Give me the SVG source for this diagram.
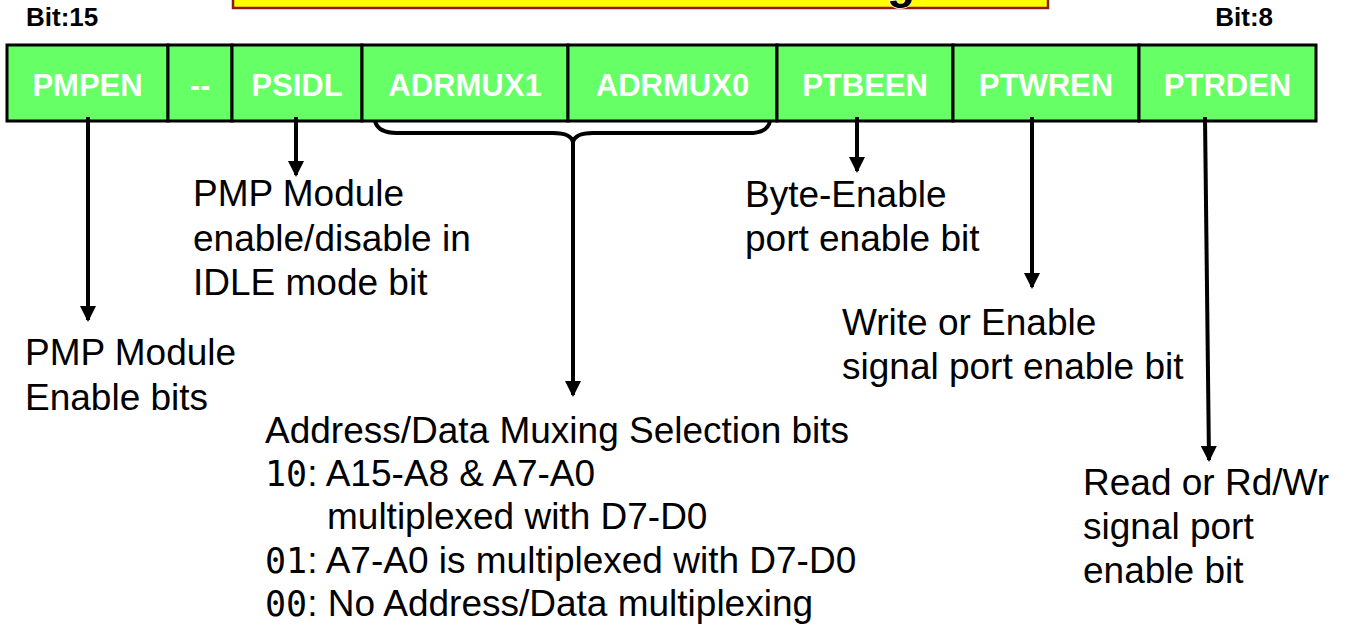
<svg xmlns="http://www.w3.org/2000/svg" width="1346" height="628" viewBox="0 0 1346 628">
  <style>
    .cell { fill: #66FF66; stroke: #000; stroke-width: 3; }
    .field { font-family: "Liberation Sans", Arial, sans-serif; font-weight: bold; font-size: 31px; fill: #fff; text-anchor: middle; }
    .bitno { font-family: "Liberation Sans", Arial, sans-serif; font-weight: bold; font-size: 26px; fill: #000; }
    .desc { font-family: "Liberation Sans", Arial, sans-serif; font-size: 37px; fill: #000; }
    .code { font-family: "DejaVu Sans Mono", "Liberation Mono", monospace; font-size: 35px; }
    .wire { fill: none; stroke: #000; stroke-width: 4; }
  </style>
  <defs>
    <marker id="head" viewBox="0 0 16 16" refX="14" refY="8" markerWidth="16" markerHeight="16" markerUnits="userSpaceOnUse" orient="auto">
      <path d="M0,0 L16,8 L0,16 Z" fill="#000"/>
    </marker>
  </defs>

  <rect width="1346" height="628" fill="#fff"/>

  <!-- title banner, mostly above the page edge -->
  <g id="title">
    <rect x="233" y="-40" width="815" height="48" fill="#FFFF00" stroke="#8B1A1A" stroke-width="2.5"/>
    <text x="887" y="-2" font-family="Liberation Sans, Arial, sans-serif" font-weight="bold" font-size="46" fill="#000" stroke="#fff" stroke-width="1.5" paint-order="stroke">g</text>
  </g>

  <!-- bit numbers -->
  <g id="bit-labels">
    <text class="bitno" x="26" y="26">Bit:15</text>
    <text class="bitno" x="1273" y="26" text-anchor="end">Bit:8</text>
  </g>

  <!-- register fields -->
  <g id="register">
    <g id="f-pmpen"><rect class="cell" x="7" y="45" width="161" height="76"/><text class="field" x="87.5" y="96">PMPEN</text></g>
    <g id="f-unused"><rect class="cell" x="168" y="45" width="64" height="76"/><text class="field" x="200" y="96">--</text></g>
    <g id="f-psidl"><rect class="cell" x="232" y="45" width="130" height="76"/><text class="field" x="297" y="96">PSIDL</text></g>
    <g id="f-adrmux1"><rect class="cell" x="362" y="45" width="206" height="76"/><text class="field" x="465" y="96">ADRMUX1</text></g>
    <g id="f-adrmux0"><rect class="cell" x="568" y="45" width="209" height="76"/><text class="field" x="672.5" y="96">ADRMUX0</text></g>
    <g id="f-ptbeen"><rect class="cell" x="777" y="45" width="176" height="76"/><text class="field" x="865" y="96">PTBEEN</text></g>
    <g id="f-ptwren"><rect class="cell" x="953" y="45" width="186" height="76"/><text class="field" x="1046" y="96">PTWREN</text></g>
    <g id="f-ptrden"><rect class="cell" x="1139" y="45" width="177" height="76"/><text class="field" x="1227.5" y="96">PTRDEN</text></g>
  </g>

  <!-- pointers from fields to their descriptions -->
  <g id="connectors">
    <line class="wire" x1="88" y1="117" x2="88" y2="320" marker-end="url(#head)"/>
    <line class="wire" x1="296" y1="117" x2="296" y2="175" marker-end="url(#head)"/>
    <path class="wire" stroke-width="3.5" d="M375,121 Q378,133 397,133 L553,133 Q571,133 573,142 Q575,133 593,133 L749,133 Q768,133 770,121"/>
    <line class="wire" x1="573" y1="140" x2="573" y2="395" marker-end="url(#head)"/>
    <line class="wire" x1="857" y1="117" x2="857" y2="171" marker-end="url(#head)"/>
    <line class="wire" x1="1032" y1="117" x2="1032" y2="287" marker-end="url(#head)"/>
    <line class="wire" x1="1205" y1="117" x2="1209" y2="460" marker-end="url(#head)"/>
  </g>

  <!-- descriptions -->
  <g id="d-pmpen">
    <text class="desc" x="25" y="365">PMP Module</text>
    <text class="desc" x="25" y="410">Enable bits</text>
  </g>
  <g id="d-psidl">
    <text class="desc" x="193" y="206">PMP Module</text>
    <text class="desc" x="193" y="251">enable/disable in</text>
    <text class="desc" x="193" y="295">IDLE mode bit</text>
  </g>
  <g id="d-adrmux">
    <text class="desc" x="265" y="443">Address/Data Muxing Selection bits</text>
    <text class="desc" x="265" y="486"><tspan class="code">10</tspan>: A15-A8 &amp; A7-A0</text>
    <text class="desc" x="327" y="529">multiplexed with D7-D0</text>
    <text class="desc" x="265" y="573"><tspan class="code">01</tspan>: A7-A0 is multiplexed with D7-D0</text>
    <text class="desc" x="265" y="616"><tspan class="code">00</tspan>: No Address/Data multiplexing</text>
  </g>
  <g id="d-ptbeen">
    <text class="desc" x="745" y="207">Byte-Enable</text>
    <text class="desc" x="745" y="251">port enable bit</text>
  </g>
  <g id="d-ptwren">
    <text class="desc" x="842" y="335">Write or Enable</text>
    <text class="desc" x="842" y="379">signal port enable bit</text>
  </g>
  <g id="d-ptrden">
    <text class="desc" x="1083" y="495">Read or Rd/Wr</text>
    <text class="desc" x="1083" y="539">signal port</text>
    <text class="desc" x="1083" y="583">enable bit</text>
  </g>
</svg>
